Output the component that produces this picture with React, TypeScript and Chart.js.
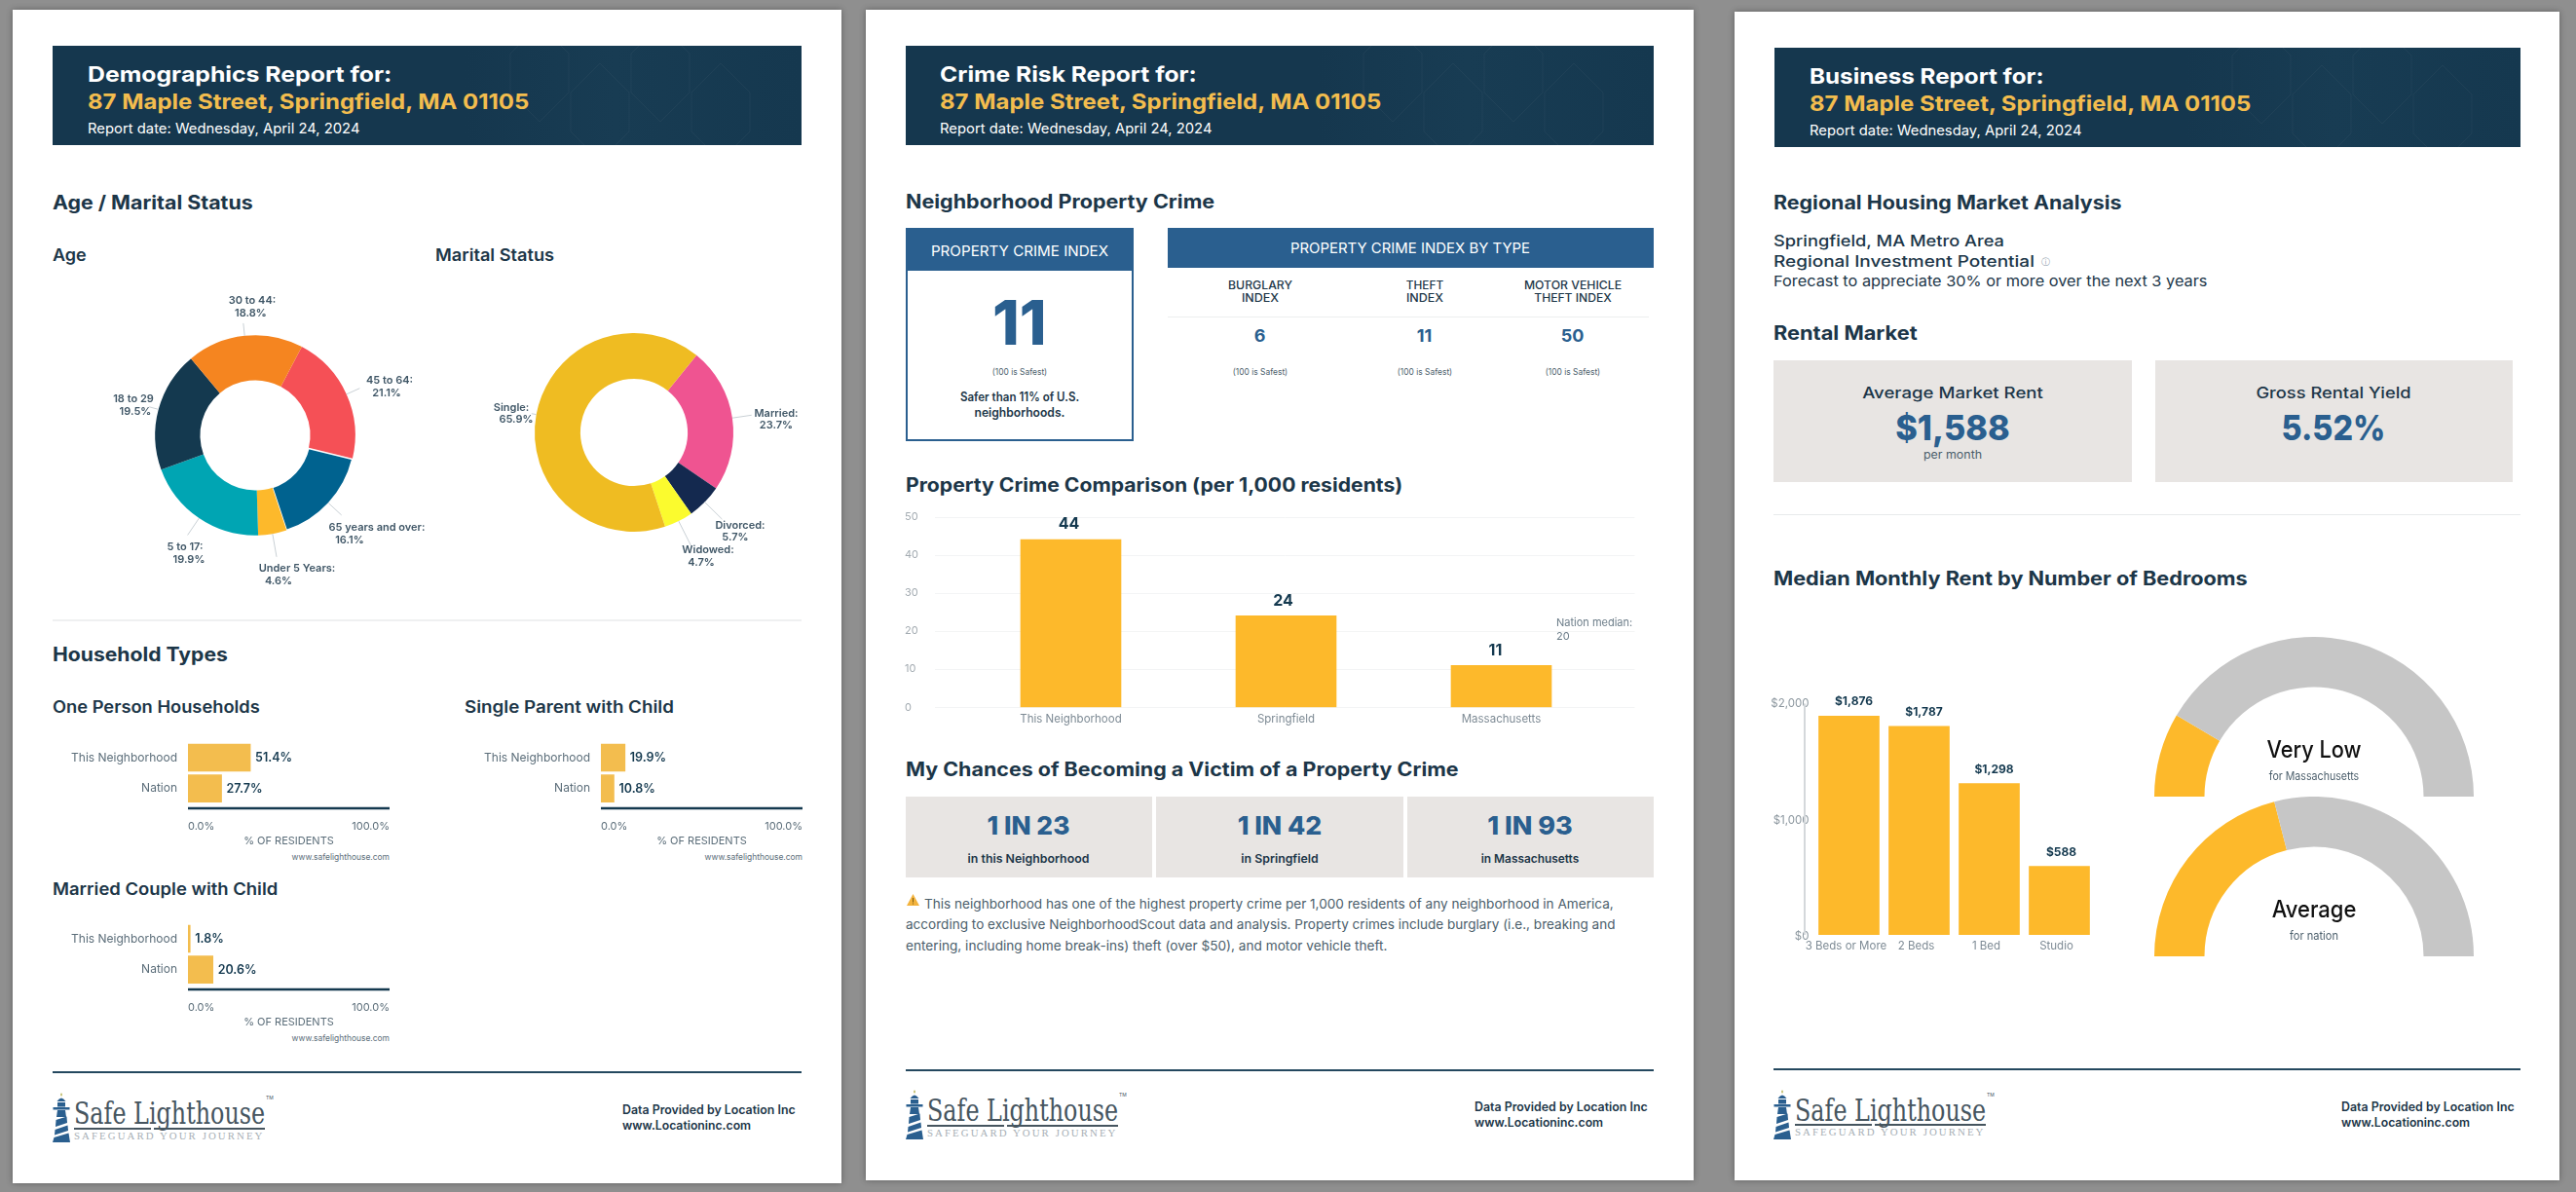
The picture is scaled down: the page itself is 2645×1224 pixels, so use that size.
import React, { useEffect, useLayoutEffect, useRef } from "react";
import { Chart, registerables } from "chart.js";

Chart.register(...registerables);

// ---------- data ----------
const address = "87 Maple Street, Springfield, MA 01105";
const reportDate = "Report date: Wednesday, April 24, 2024";

const ageLabels = ["45 to 64:", "65 years and over:", "Under 5 Years:", "5 to 17:", "18 to 29", "30 to 44:"];
const ageValues = [21.1, 16.1, 4.6, 19.9, 19.5, 18.8];
const ageColors = ["#f55056", "#00628f", "#fdb92b", "#00a5b3", "#14394f", "#f58520"];

const maritalLabels = ["Married:", "Divorced:", "Widowed:", "Single:"];
const maritalValues = [23.7, 5.7, 4.7, 65.9];
const maritalColors = ["#ef5491", "#14294f", "#fbfb2e", "#efbc22"];

const compareLabels = ["This Neighborhood", "Nation"];
const onePersonValues = [51.4, 27.7];
const singleParentValues = [19.9, 10.8];
const marriedChildValues = [1.8, 20.6];
const residentTicks = ["0.0%", "100.0%"];

const crimeLabels = ["This Neighborhood", "Springfield", "Massachusetts"];
const crimeValues = [44, 24, 11];
const nationMedian = 20;

const rentLabels = ["3 Beds or More", "2 Beds", "1 Bed", "Studio"];
const rentValues = [1876, 1787, 1298, 588];

const gaugeMassachusetts = [17, 83];
const gaugeNation = [42, 58];

// ---------- palette ----------
const NAVY = "#14394f";
const HEAD = "#1c3648";
const BLUE = "#2a5f8f";
const GOLD = "#f3bd4e";
const BAR = "#fdb92b";
const FONT = "Inter";

// ---------- layout of the doughnut labels, relative to each doughnut's centre ----------
const ageLabelLayout = [
  { leader: 15, a: [138, -57], b: [135, -44] },
  { leader: 18, a: [125, 94], b: [97, 107] },
  { leader: 24, a: [43, 136], b: [24, 149] },
  { leader: 21, a: [-72, 114], b: [-68, 127] },
  { leader: 10, a: [-125, -38], b: [-123, -25] },
  { leader: 13, a: [-3, -139], b: [-4.5, -126] },
];
const maritalLabelLayout = [
  { leader: 20, a: [146, -20], b: [146, -8] },
  { leader: 25, a: [109, 95], b: [104, 107] },
  { leader: 28, a: [76, 120], b: [69, 133] },
  { leader: 5, a: [-126, -26], b: [-121, -14] },
];

// ---------- plugins ----------
const donutLabels = (labels: string[], values: number[], layout: any[]) => ({
  id: "donutLabels",
  afterDatasetsDraw(chart: any) {
    const { ctx } = chart;
    ctx.save();
    chart.getDatasetMeta(0).data.forEach((arc: any, i: number) => {
      const mid = (arc.startAngle + arc.endAngle) / 2;
      const R = arc.outerRadius;
      const l = layout[i];
      ctx.strokeStyle = "#c9d0d5";
      ctx.lineWidth = 1;
      ctx.beginPath();
      ctx.moveTo(arc.x + Math.cos(mid) * R, arc.y + Math.sin(mid) * R);
      ctx.lineTo(arc.x + Math.cos(mid) * (R + l.leader), arc.y + Math.sin(mid) * (R + l.leader));
      ctx.stroke();
      ctx.fillStyle = "#3f5666";
      ctx.font = `600 11px ${FONT}`;
      ctx.textAlign = "center";
      ctx.textBaseline = "middle";
      ctx.fillText(labels[i], arc.x + l.a[0], arc.y + l.a[1] + 0.5);
      ctx.fillText(`${values[i]}%`, arc.x + l.b[0], arc.y + l.b[1] + 0.5);
    });
    ctx.restore();
  },
});

const barValueLabels = (o: any) => ({
  id: "barValueLabels",
  afterDatasetsDraw(chart: any) {
    const { ctx } = chart;
    const values = chart.data.datasets[0].data;
    ctx.save();
    ctx.font = o.font;
    ctx.fillStyle = o.color;
    ctx.textBaseline = "middle";
    ctx.textAlign = o.horizontal ? "left" : "center";
    chart.getDatasetMeta(0).data.forEach((bar: any, i: number) => {
      const txt = o.format(values[i]);
      if (o.horizontal) ctx.fillText(txt, bar.x + 5, bar.y + 0.5);
      else ctx.fillText(txt, bar.x + (o.dx?.[i] ?? 0), bar.y - o.up);
    });
    ctx.restore();
  },
});

const bottomRule = (gap: number) => ({
  id: "bottomRule",
  afterDatasetsDraw(chart: any) {
    const { ctx, chartArea: a } = chart;
    ctx.save();
    ctx.strokeStyle = NAVY;
    ctx.lineWidth = 2.5;
    ctx.beginPath();
    ctx.moveTo(a.left, a.bottom + gap);
    ctx.lineTo(a.right, a.bottom + gap);
    ctx.stroke();
    ctx.restore();
  },
});

const wideGrid = (left: number, right: number) => ({
  id: "wideGrid",
  beforeDatasetsDraw(chart: any) {
    const { ctx, scales, chartArea: a } = chart;
    ctx.save();
    ctx.strokeStyle = "#f3f4f5";
    ctx.lineWidth = 1;
    scales.y.ticks.forEach((t: any) => {
      const y = Math.round(scales.y.getPixelForValue(t.value)) + 0.5;
      ctx.beginPath();
      ctx.moveTo(a.left - left, y);
      ctx.lineTo(a.right + right, y);
      ctx.stroke();
    });
    ctx.restore();
  },
});

const medianNote = (value: number, offsetX: number) => ({
  id: "medianNote",
  afterDatasetsDraw(chart: any) {
    const { ctx, scales, chartArea: a } = chart;
    const y = scales.y.getPixelForValue(value);
    ctx.save();
    ctx.font = `400 11px ${FONT}`;
    ctx.fillStyle = "#6b7c88";
    ctx.textAlign = "left";
    ctx.textBaseline = "middle";
    ctx.fillText("Nation median:", a.right - offsetX, y - 8);
    ctx.fillText(String(value), a.right - offsetX, y + 5.5);
    ctx.restore();
  },
});

const leftRule = (gap: number) => ({
  id: "leftRule",
  beforeDatasetsDraw(chart: any) {
    const { ctx, chartArea: a } = chart;
    ctx.save();
    ctx.strokeStyle = "#d4d8db";
    ctx.lineWidth = 2;
    ctx.beginPath();
    ctx.moveTo(a.left - gap, a.top + 2);
    ctx.lineTo(a.left - gap, a.bottom);
    ctx.stroke();
    ctx.restore();
  },
});

// ---------- chart configs ----------
const donutConfig = (labels: string[], values: number[], colors: string[], layout: any[], rotation: number, pad: any, cutout: string, widths: number[]) => ({
  type: "doughnut",
  data: { labels, datasets: [{ data: values, backgroundColor: colors, borderColor: "#ffffff", borderWidth: widths }] },
  options: {
    animation: false,
    responsive: false,
    maintainAspectRatio: false,
    rotation,
    cutout,
    layout: { padding: pad },
    plugins: { legend: { display: false }, tooltip: { enabled: false } },
  },
  plugins: [donutLabels(labels, values, layout)],
});

const residentsConfig = (values: number[]) => ({
  type: "bar",
  data: { labels: compareLabels, datasets: [{ data: values, backgroundColor: GOLD, barThickness: 28 }] },
  options: {
    animation: false,
    responsive: false,
    maintainAspectRatio: false,
    indexAxis: "y",
    layout: { padding: 0 },
    plugins: { legend: { display: false }, tooltip: { enabled: false } },
    scales: {
      x: {
        min: 0,
        max: 166,
        afterBuildTicks: (s: any) => { s.ticks = [{ value: 0 }, { value: 166 }]; },
        afterFit: (s: any) => { s.height = 44.5; },
        grid: { display: false, drawTicks: false },
        border: { display: false },
        ticks: {
          autoSkip: false,
          maxRotation: 0,
          align: "inner",
          padding: 17,
          color: "#5b6d79",
          font: { family: FONT, size: 11 },
          callback: (_: any, i: number) => residentTicks[i],
        },
        title: { display: true, text: "% OF RESIDENTS", color: "#5b6d79", font: { family: FONT, size: 11 }, padding: { top: 0, bottom: 0 } },
      },
      y: {
        grid: { display: false, drawTicks: false },
        border: { display: false },
        afterFit: (s: any) => { s.width = 139; },
        ticks: { color: "#5b6d79", padding: 11, font: { family: FONT, size: 12 } },
      },
    },
  },
  plugins: [
    bottomRule(4.5),
    barValueLabels({ horizontal: true, font: `600 12.5px ${FONT}`, color: NAVY, format: (v: number) => `${v}%` }),
  ],
});

const crimeConfig = () => ({
  type: "bar",
  data: { labels: crimeLabels, datasets: [{ data: crimeValues, backgroundColor: BAR, barThickness: 103 }] },
  options: {
    animation: false,
    responsive: false,
    maintainAspectRatio: false,
    layout: { padding: { top: 10.6, right: 43, left: 0, bottom: 0 } },
    plugins: { legend: { display: false }, tooltip: { enabled: false } },
    scales: {
      x: {
        grid: { display: false, drawTicks: false },
        border: { display: false },
        afterFit: (s: any) => { s.height = 23.7; },
        ticks: { color: "#7d8a94", padding: 5, font: { family: FONT, size: 11.5 } },
      },
      y: {
        min: 0,
        max: 50,
        grid: { display: false, drawTicks: false },
        border: { display: false },
        afterFit: (s: any) => { s.width = 60; },
        ticks: { stepSize: 10, crossAlign: "far", color: "#a3abb1", font: { family: FONT, size: 11 } },
      },
    },
  },
  plugins: [
    wideGrid(29, 26.5),
    medianNote(nationMedian, 54),
    barValueLabels({ font: `700 16px ${FONT}`, color: NAVY, up: 15.5, dx: [-2, -3, -6], format: (v: number) => String(v) }),
  ],
});

const rentConfig = () => ({
  type: "bar",
  data: { labels: rentLabels, datasets: [{ data: rentValues, backgroundColor: BAR, barThickness: 62 }] },
  options: {
    animation: false,
    responsive: false,
    maintainAspectRatio: false,
    layout: { padding: { top: 20.4, right: 19.5, left: 0, bottom: 0 } },
    plugins: { legend: { display: false }, tooltip: { enabled: false } },
    scales: {
      x: {
        grid: { display: false, drawTicks: false },
        border: { display: false },
        afterFit: (s: any) => { s.height = 30; },
        ticks: { autoSkip: false, maxRotation: 0, labelOffset: -3, color: "#7d8a94", padding: 5, font: { family: FONT, size: 11.5 } },
      },
      y: {
        min: 0,
        max: 2000,
        grid: { display: false, drawTicks: false },
        border: { display: false },
        afterFit: (s: any) => { s.width = 62.5; },
        ticks: {
          stepSize: 1000,
          labelOffset: 2,
          color: "#8c979f",
          padding: 5,
          font: { family: FONT, size: 11.5 },
          callback: (v: number) => `$${Number(v).toLocaleString("en-US")}`,
        },
      },
    },
  },
  plugins: [
    leftRule(9.5),
    barValueLabels({ font: `700 12px ${FONT}`, color: NAVY, up: 14.5, dx: [5, 5, 5, 2], format: (v: number) => `$${v.toLocaleString("en-US")}` }),
  ],
});

const gaugeConfig = (values: number[]) => ({
  type: "doughnut",
  data: { labels: ["Score", "Remainder"], datasets: [{ data: values, backgroundColor: [BAR, "#c6c6c6"], borderWidth: 0 }] },
  options: {
    animation: false,
    responsive: false,
    maintainAspectRatio: false,
    rotation: -90,
    circumference: 180,
    cutout: "68.6%",
    plugins: { legend: { display: false }, tooltip: { enabled: false } },
  },
});

const padFor = (box: any, cx: number, cy: number, r: number) => ({
  left: cx - r - box.x,
  top: cy - r - box.y,
  right: box.x + box.w - cx - r,
  bottom: box.y + box.h - cy - r,
});

// ---------- components ----------
function ChartBox({ x, y, w, h, make }: any) {
  const ref = useRef<HTMLCanvasElement>(null);
  useEffect(() => {
    const chart = new Chart(ref.current as any, make());
    return () => chart.destroy();
  }, []);
  return <canvas ref={ref} width={w} height={h} style={{ position: "absolute", left: x, top: y, width: w, height: h }} />;
}

function T({ x, y, w, size, weight = 400, color = HEAD, align = "left", font = FONT, spacing, children }: any) {
  const ref = useRef<HTMLSpanElement>(null);
  const tx = align === "center" ? "-50%" : align === "right" ? "-100%" : "0";
  useLayoutEffect(() => {
    const el = ref.current as HTMLSpanElement;
    const k = w ? w / el.offsetWidth : 1;
    el.style.transform = `translate(${tx}, -50%) scaleX(${k})`;
  }, []);
  return (
    <span
      ref={ref}
      style={{
        position: "absolute",
        left: x,
        top: y,
        whiteSpace: "nowrap",
        lineHeight: 1,
        fontFamily: font,
        fontSize: size,
        fontWeight: weight,
        color,
        letterSpacing: spacing,
        transformOrigin: `${align} center`,
        transform: `translate(${tx}, -50%)`,
      }}
    >
      {children}
    </span>
  );
}

function Box({ x, y, r, b, color, border }: any) {
  return <div style={{ position: "absolute", left: x, top: y, width: r - x, height: b - y, background: color, border, boxSizing: "border-box" }} />;
}

function Page({ x, y, r, b }: any) {
  return <div style={{ position: "absolute", left: x, top: y, width: r - x, height: b - y, background: "#fff", boxShadow: "0 0 6px rgba(40,40,40,.45)" }} />;
}

function Header({ x, y, r, tx, title, titleW }: any) {
  return (
    <>
      <div style={{ position: "absolute", left: x, top: y, width: r - x, height: 102.5, background: "linear-gradient(90deg,#15374e 0%,#15374e 55%,#183c53 75%,#15384f 100%)", overflow: "hidden" }}>
        <svg width={r - x} height={103} style={{ position: "absolute", left: 0, top: 0 }}>
          {[0, 1, 2, 3].map((i) => (
            <polygon
              key={i}
              points={[[0, 30], [30, 0], [60, 30], [60, 70], [30, 100], [0, 70]].map((p) => `${p[0] + 470 + i * 62},${p[1] + (i % 2 ? 18 : -22)}`).join(" ")}
              fill="none"
              stroke="rgba(255,255,255,.04)"
            />
          ))}
        </svg>
      </div>
      <T x={tx} y={y + 29} w={titleW} size={22} weight={700} color="#ffffff">{title}</T>
      <T x={tx} y={y + 57} w={453} size={22} weight={700} color={GOLD}>{address}</T>
      <T x={tx} y={y + 85.5} w={280} size={14.5} weight={400} color="#ffffff">{reportDate}</T>
    </>
  );
}

function Footer({ x, r, lineY, logoY, dataX, dataY }: any) {
  return (
    <>
      <Box x={x} y={lineY - 1} r={r} b={lineY + 1} color="#24485f" />
      <svg width={18} height={52} viewBox="0 0 18 52" style={{ position: "absolute", left: x, top: logoY }}>
        <polygon points="9,0 10,2 9,4 8,2" fill="#b9b45a" />
        <path d="M4.5 9 Q9 2 13.5 9 Z" fill="#2a5f8f" />
        <rect x="5" y="10" width="8" height="4.5" fill="#2a5f8f" />
        <rect x="0.5" y="15" width="17" height="2.5" fill="#2a5f8f" />
        <polygon points="5,18 13,18 14,25 4,25" fill="#2a5f8f" />
        <polygon points="3.5,28 14.5,24.5 15,31 3,35" fill="#2a5f8f" />
        <polygon points="2.5,38 15.5,33.5 16,39 2,43.5" fill="#2a5f8f" />
        <polygon points="1.5,46 16.5,41.5 18,51 0,51" fill="#2a5f8f" />
      </svg>
      <T x={x + 22} y={logoY + 21} w={196} size={32} font="DejaVu Serif" color="#46555f">Safe Lighthouse</T>
      <T x={x + 219} y={logoY + 5} size={5} color="#46555f">TM</T>
      <Box x={x + 22} y={logoY + 35.5} r={x + 101} b={logoY + 37.5} color="#46555f" />
      <Box x={x + 104} y={logoY + 35.5} r={x + 218} b={logoY + 37.5} color="#46555f" />
      <T x={x + 22} y={logoY + 44.5} w={195} size={10.5} font="Liberation Serif" color="#a7afb5" spacing="2px">SAFEGUARD YOUR JOURNEY</T>
      <T x={dataX} y={dataY} w={178} size={12.5} weight={600}>Data Provided by Location Inc</T>
      <T x={dataX} y={dataY + 15.5} w={132} size={12.5} weight={600}>www.Locationinc.com</T>
    </>
  );
}

function Residents({ axisX, top, values, titleX, title, titleW, titleY }: any) {
  return (
    <>
      <T x={titleX} y={titleY} w={titleW} size={17} weight={600}>{title}</T>
      <ChartBox x={axisX - 139} y={top - 6} w={139 + 207 + 17} h={126} make={() => residentsConfig(values)} />
      <T x={axisX + 207} y={top + 130} w={100} size={8.5} align="right" color="#5b6d79">www.safelighthouse.com</T>
    </>
  );
}

const H = ({ x, y, w, children }: any) => <T x={x} y={y + 1.5} w={w} size={19.5} weight={700}>{children}</T>;

export default function App() {
  const age = { x: 90, y: 290, w: 360, h: 320 };
  const marital = { x: 490, y: 290, w: 350, h: 320 };
  useEffect(() => {
    document.body.style.margin = "0";
    document.documentElement.style.overflow = "hidden";
  }, []);
  return (
    <div style={{ position: "absolute", left: 0, top: 0, width: 2645, height: 1224, overflow: "hidden", background: "#8f8f8f" }}>
      <Page x={13} y={10} r={864} b={1215} />
      <Page x={888.5} y={10} r={1738.5} b={1212} />
      <Page x={1781} y={11.5} r={2628} b={1212} />

      {/* ------ page 1 ------ */}
      <Header x={54} y={46.5} r={823} tx={90} title="Demographics Report for:" titleW={312} />
      <H x={54} y={207} w={206}>Age / Marital Status</H>
      <T x={54} y={262} w={35} size={17} weight={600}>Age</T>
      <T x={447} y={262} w={122} size={17} weight={600}>Marital Status</T>
      <ChartBox {...age} make={() => donutConfig(ageLabels, ageValues, ageColors, ageLabelLayout, 27.8, padFor(age, 262, 447, 103.5), "55%", [0, 1.5, 0, 0, 0, 0])} />
      <ChartBox {...marital} make={() => donutConfig(maritalLabels, maritalValues, maritalColors, maritalLabelLayout, 39, padFor(marital, 651, 444, 102), "54%", [0, 0, 0, 0])} />
      <Box x={54} y={636} r={823} b={638} color="#eff0f1" />
      <H x={54} y={671} w={180}>Household Types</H>
      <Residents axisX={193} top={750} values={onePersonValues} titleX={54} titleY={726} title="One Person Households" titleW={213} />
      <Residents axisX={617} top={750} values={singleParentValues} titleX={477} titleY={726} title="Single Parent with Child" titleW={215} />
      <Residents axisX={193} top={936.3} values={marriedChildValues} titleX={54} titleY={913} title="Married Couple with Child" titleW={231} />
      <Footer x={54} r={823} lineY={1101} logoY={1122} dataX={639} dataY={1140} />

      {/* ------ page 2 ------ */}
      <Header x={930} y={46.5} r={1698} tx={965} title="Crime Risk Report for:" titleW={264} />
      <H x={930} y={206} w={317}>Neighborhood Property Crime</H>
      <Box x={930} y={234} r={1163.5} b={453} color="#fff" border={`2px solid ${BLUE}`} />
      <Box x={930} y={234} r={1163.5} b={277.5} color={BLUE} />
      <T x={1046.7} y={257} w={182} size={15} align="center" color="#fff">PROPERTY CRIME INDEX</T>
      <T x={1046.7} y={330.6} size={63} weight={800} align="center" color={BLUE}>11</T>
      <T x={1046.7} y={381} w={56} size={9} align="center" color="#4b5e6b">(100 is Safest)</T>
      <T x={1046.7} y={408} w={122} size={12.5} weight={600} align="center">Safer than 11% of U.S.</T>
      <T x={1046.7} y={424} w={93} size={12.5} weight={600} align="center">neighborhoods.</T>
      <Box x={1198.7} y={234} r={1698} b={274.7} color={BLUE} />
      <T x={1448} y={255} w={246} size={14.5} align="center" color="#fff">PROPERTY CRIME INDEX BY TYPE</T>
      <T x={1293.6} y={294} w={66} size={11.5} weight={500} align="center">BURGLARY</T>
      <T x={1293.6} y={307} w={38} size={11.5} weight={500} align="center">INDEX</T>
      <T x={1462.5} y={294} w={38} size={11.5} weight={500} align="center">THEFT</T>
      <T x={1462.5} y={307} w={38} size={11.5} weight={500} align="center">INDEX</T>
      <T x={1614.6} y={294} w={100} size={11.5} weight={500} align="center">MOTOR VEHICLE</T>
      <T x={1614.6} y={307} w={79} size={11.5} weight={500} align="center">THEFT INDEX</T>
      <Box x={1198.7} y={324.5} r={1692.6} b={325.5} color="#eceeef" />
      <T x={1293.6} y={345} size={18} weight={700} align="center" color={BLUE}>6</T>
      <T x={1462.5} y={345} size={18} weight={700} align="center" color={BLUE}>11</T>
      <T x={1614.6} y={345} size={18} weight={700} align="center" color={BLUE}>50</T>
      <T x={1293.6} y={381} w={56} size={9} align="center" color="#4b5e6b">(100 is Safest)</T>
      <T x={1462.5} y={381} w={56} size={9} align="center" color="#4b5e6b">(100 is Safest)</T>
      <T x={1614.6} y={381} w={56} size={9} align="center" color="#4b5e6b">(100 is Safest)</T>
      <H x={930} y={497} w={510}>Property Crime Comparison (per 1,000 residents)</H>
      <ChartBox x={929} y={520} w={766} h={230} make={crimeConfig} />
      <H x={930} y={789} w={568}>My Chances of Becoming a Victim of a Property Crime</H>
      <Box x={929.5} y={818} r={1183} b={900.5} color="#e8e5e3" />
      <Box x={1187} y={818} r={1440.5} b={900.5} color="#e8e5e3" />
      <Box x={1445} y={818} r={1698} b={900.5} color="#e8e5e3" />
      <T x={1056} y={847.5} w={85} size={26} weight={800} align="center" color={BLUE}>1 IN 23</T>
      <T x={1313.5} y={847.5} w={87} size={26} weight={800} align="center" color={BLUE}>1 IN 42</T>
      <T x={1571} y={847.5} w={87} size={26} weight={800} align="center" color={BLUE}>1 IN 93</T>
      <T x={1056} y={882} w={124.5} size={12} weight={600} align="center">in this Neighborhood</T>
      <T x={1313.5} y={882} w={79} size={12} weight={600} align="center">in Springfield</T>
      <T x={1571} y={882} w={101} size={12} weight={600} align="center">in Massachusetts</T>
      <svg width={13} height={12} viewBox="0 0 13 12" style={{ position: "absolute", left: 931, top: 918 }}>
        <polygon points="6.5,0 13,12 0,12" fill="#f3b33d" />
        <rect x="6" y="4" width="1" height="4.5" fill="#7a5a10" />
        <rect x="6" y="9.5" width="1" height="1" fill="#7a5a10" />
      </svg>
      <T x={948.5} y={929} w={707.5} size={13.5} color="#4b5e6b">This neighborhood has one of the highest property crime per 1,000 residents of any neighborhood in America,</T>
      <T x={930} y={950.2} w={728} size={13.5} color="#4b5e6b">according to exclusive NeighborhoodScout data and analysis. Property crimes include burglary (i.e., breaking and</T>
      <T x={930} y={971.8} w={494} size={13.5} color="#4b5e6b">entering, including home break-ins) theft (over $50), and motor vehicle theft.</T>
      <Footer x={930} r={1698} lineY={1098.8} logoY={1119} dataX={1513.5} dataY={1137} />

      {/* ------ page 3 ------ */}
      <Header x={1822} y={48.6} r={2588} tx={1857.6} title="Business Report for:" titleW={241} />
      <H x={1821} y={207.8} w={357}>Regional Housing Market Analysis</H>
      <T x={1821} y={246.5} w={237} size={16} weight={500}>Springfield, MA Metro Area</T>
      <T x={1821} y={267.8} w={268} size={16} weight={500}>Regional Investment Potential</T>
      <T x={2100.6} y={267.8} size={9} align="center" color="#8fa0ac">ⓘ</T>
      <T x={1821} y={288} w={445} size={15}>Forecast to appreciate 30% or more over the next 3 years</T>
      <H x={1821} y={341} w={147.5}>Rental Market</H>
      <Box x={1821} y={369.8} r={2189} b={495.5} color="#e8e5e3" />
      <Box x={2213} y={369.8} r={2580.4} b={495.5} color="#e8e5e3" />
      <T x={2005} y={403} w={186} size={16} weight={500} align="center">Average Market Rent</T>
      <T x={2005} y={438.5} w={118} size={36} weight={800} align="center" color={BLUE}>$1,588</T>
      <T x={2005} y={467.5} w={60.5} size={11.5} align="center" color="#4b5e6b">per month</T>
      <T x={2396} y={403} w={159} size={16} weight={500} align="center">Gross Rental Yield</T>
      <T x={2396} y={438.5} w={107} size={36} weight={800} align="center" color={BLUE}>5.52%</T>
      <Box x={1821} y={528} r={2588} b={529} color="#e8eaeb" />
      <H x={1821} y={593} w={487}>Median Monthly Rent by Number of Bedrooms</H>
      <ChartBox x={1800} y={700} w={370} h={290} make={rentConfig} />
      <ChartBox x={2212} y={654} w={328} h={164} make={() => gaugeConfig(gaugeMassachusetts)} />
      <ChartBox x={2212} y={818} w={328} h={164} make={() => gaugeConfig(gaugeNation)} />
      <T x={2375.8} y={770} w={97} size={24} weight={500} align="center" color="#111">Very Low</T>
      <T x={2375.8} y={797.8} w={92.5} size={11.5} align="center" color="#4b5e6b">for Massachusetts</T>
      <T x={2375.8} y={934} w={87} size={24} weight={500} align="center" color="#111">Average</T>
      <T x={2375.8} y={962} w={50} size={11.5} align="center" color="#4b5e6b">for nation</T>
      <Footer x={1821} r={2588} lineY={1098} logoY={1118.5} dataX={2404} dataY={1137} />
    </div>
  );
}
